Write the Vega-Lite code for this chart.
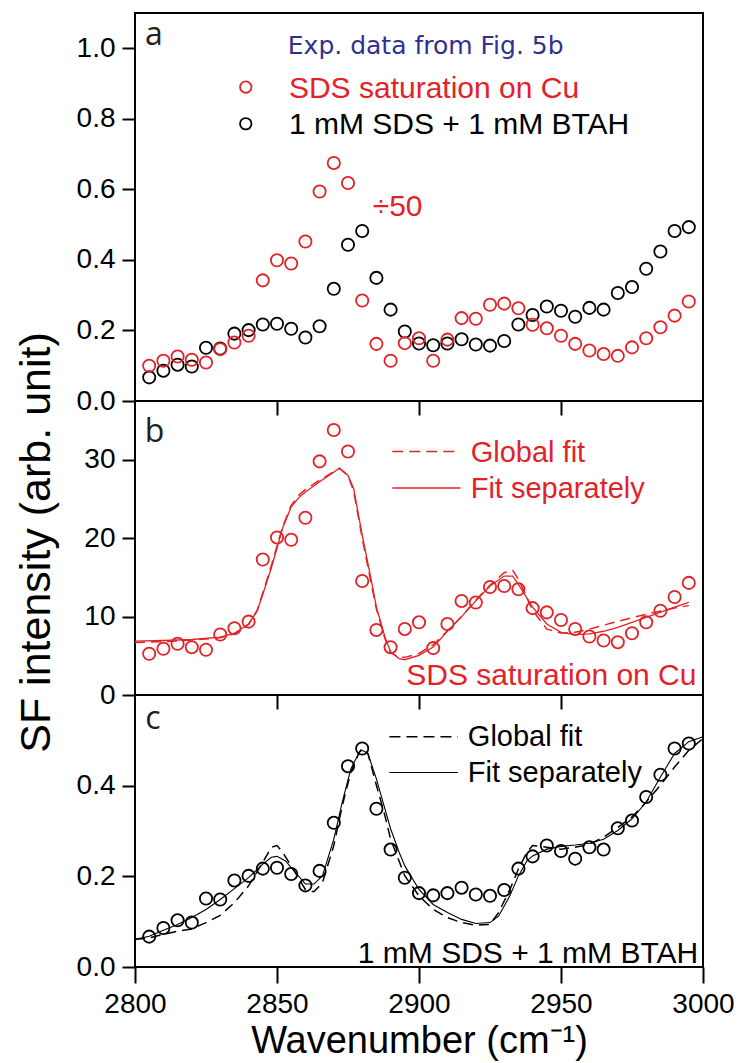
{
  "$schema": "https://vega.github.io/schema/vega-lite/v6.json",
  "padding": {"left": 13, "top": 12, "right": 5, "bottom": 0},
  "bounds": "flush",
  "spacing": 0,
  "config": {
    "font": "Liberation Sans",
    "view": {"stroke": "#000000", "strokeWidth": 2},
    "axis": {"grid": false, "domain": false, "tickColor": "#000000", "tickWidth": 2, "labelColor": "#000000", "labelFont": "Liberation Sans", "labelFontSize": 28, "titleColor": "#000000", "titleFont": "Liberation Sans", "titleFontWeight": "normal"}
  },
  "datasets": {
    "sdsA": [
      {"wn": 2805, "v": 0.100}, {"wn": 2810, "v": 0.114}, {"wn": 2815, "v": 0.126}, {"wn": 2820, "v": 0.117}, {"wn": 2825, "v": 0.109},
      {"wn": 2830, "v": 0.147}, {"wn": 2835, "v": 0.166}, {"wn": 2840, "v": 0.185}, {"wn": 2845, "v": 0.342}, {"wn": 2850, "v": 0.399},
      {"wn": 2855, "v": 0.390}, {"wn": 2860, "v": 0.452}, {"wn": 2865, "v": 0.594}, {"wn": 2870, "v": 0.675}, {"wn": 2875, "v": 0.618},
      {"wn": 2880, "v": 0.285}, {"wn": 2885, "v": 0.162}, {"wn": 2890, "v": 0.114}, {"wn": 2895, "v": 0.164}, {"wn": 2900, "v": 0.178},
      {"wn": 2905, "v": 0.114}, {"wn": 2910, "v": 0.174}, {"wn": 2915, "v": 0.235}, {"wn": 2920, "v": 0.233}, {"wn": 2925, "v": 0.273},
      {"wn": 2930, "v": 0.276}, {"wn": 2935, "v": 0.263}, {"wn": 2940, "v": 0.216}, {"wn": 2945, "v": 0.206}, {"wn": 2950, "v": 0.185},
      {"wn": 2955, "v": 0.162}, {"wn": 2960, "v": 0.143}, {"wn": 2965, "v": 0.133}, {"wn": 2970, "v": 0.128}, {"wn": 2975, "v": 0.152},
      {"wn": 2980, "v": 0.178}, {"wn": 2985, "v": 0.209}, {"wn": 2990, "v": 0.242}, {"wn": 2995, "v": 0.282}
    ],
    "btah": [
      {"wn": 2805, "v": 0.067}, {"wn": 2810, "v": 0.086}, {"wn": 2815, "v": 0.103}, {"wn": 2820, "v": 0.098}, {"wn": 2825, "v": 0.151},
      {"wn": 2830, "v": 0.149}, {"wn": 2835, "v": 0.191}, {"wn": 2840, "v": 0.201}, {"wn": 2845, "v": 0.217}, {"wn": 2850, "v": 0.219},
      {"wn": 2855, "v": 0.205}, {"wn": 2860, "v": 0.180}, {"wn": 2865, "v": 0.212}, {"wn": 2870, "v": 0.318}, {"wn": 2875, "v": 0.443},
      {"wn": 2880, "v": 0.482}, {"wn": 2885, "v": 0.349}, {"wn": 2890, "v": 0.259}, {"wn": 2895, "v": 0.197}, {"wn": 2900, "v": 0.163},
      {"wn": 2905, "v": 0.158}, {"wn": 2910, "v": 0.163}, {"wn": 2915, "v": 0.175}, {"wn": 2920, "v": 0.160}, {"wn": 2925, "v": 0.157},
      {"wn": 2930, "v": 0.170}, {"wn": 2935, "v": 0.217}, {"wn": 2940, "v": 0.244}, {"wn": 2945, "v": 0.268}, {"wn": 2950, "v": 0.256},
      {"wn": 2955, "v": 0.239}, {"wn": 2960, "v": 0.264}, {"wn": 2965, "v": 0.259}, {"wn": 2970, "v": 0.306}, {"wn": 2975, "v": 0.323},
      {"wn": 2980, "v": 0.375}, {"wn": 2985, "v": 0.424}, {"wn": 2990, "v": 0.482}, {"wn": 2995, "v": 0.493}
    ],
    "sdsB": [
      {"wn": 2805, "v": 5.27}, {"wn": 2810, "v": 5.9}, {"wn": 2815, "v": 6.53}, {"wn": 2820, "v": 6.1}, {"wn": 2825, "v": 5.77},
      {"wn": 2830, "v": 7.71}, {"wn": 2835, "v": 8.51}, {"wn": 2840, "v": 9.36}, {"wn": 2845, "v": 17.28}, {"wn": 2850, "v": 20.1},
      {"wn": 2855, "v": 19.8}, {"wn": 2860, "v": 22.6}, {"wn": 2865, "v": 29.8}, {"wn": 2870, "v": 33.8}, {"wn": 2875, "v": 31.06},
      {"wn": 2880, "v": 14.54}, {"wn": 2885, "v": 8.3}, {"wn": 2890, "v": 6.1}, {"wn": 2895, "v": 8.43}, {"wn": 2900, "v": 9.27},
      {"wn": 2905, "v": 5.98}, {"wn": 2910, "v": 9.06}, {"wn": 2915, "v": 12.0}, {"wn": 2920, "v": 11.8}, {"wn": 2925, "v": 13.78},
      {"wn": 2930, "v": 13.9}, {"wn": 2935, "v": 13.49}, {"wn": 2940, "v": 11.08}, {"wn": 2945, "v": 10.54}, {"wn": 2950, "v": 9.57},
      {"wn": 2955, "v": 8.43}, {"wn": 2960, "v": 7.46}, {"wn": 2965, "v": 6.95}, {"wn": 2970, "v": 6.74}, {"wn": 2975, "v": 7.88},
      {"wn": 2980, "v": 9.27}, {"wn": 2985, "v": 10.75}, {"wn": 2990, "v": 12.5}, {"wn": 2995, "v": 14.3}
    ],
    "fitB": [
      {"fit": "sep", "wn": 2800, "v": 6.87}, {"fit": "sep", "wn": 2810, "v": 6.95}, {"fit": "sep", "wn": 2820, "v": 7.08}, {"fit": "sep", "wn": 2830, "v": 7.37},
      {"fit": "sep", "wn": 2835, "v": 7.88}, {"fit": "sep", "wn": 2840, "v": 9.06}, {"fit": "sep", "wn": 2843, "v": 10.7}, {"fit": "sep", "wn": 2845, "v": 12.85},
      {"fit": "sep", "wn": 2848, "v": 16.2}, {"fit": "sep", "wn": 2850, "v": 18.75}, {"fit": "sep", "wn": 2852, "v": 21.3}, {"fit": "sep", "wn": 2855, "v": 24.0},
      {"fit": "sep", "wn": 2858, "v": 25.3}, {"fit": "sep", "wn": 2860, "v": 25.9}, {"fit": "sep", "wn": 2865, "v": 27.2}, {"fit": "sep", "wn": 2870, "v": 28.4},
      {"fit": "sep", "wn": 2872, "v": 28.95}, {"fit": "sep", "wn": 2875, "v": 28.0}, {"fit": "sep", "wn": 2877, "v": 26.3}, {"fit": "sep", "wn": 2880, "v": 20.4},
      {"fit": "sep", "wn": 2883, "v": 15.0}, {"fit": "sep", "wn": 2885, "v": 11.2}, {"fit": "sep", "wn": 2888, "v": 7.4}, {"fit": "sep", "wn": 2890, "v": 5.5},
      {"fit": "sep", "wn": 2893, "v": 4.64}, {"fit": "sep", "wn": 2895, "v": 4.5}, {"fit": "sep", "wn": 2900, "v": 5.06}, {"fit": "sep", "wn": 2905, "v": 6.11},
      {"fit": "sep", "wn": 2910, "v": 8.13}, {"fit": "sep", "wn": 2915, "v": 9.99}, {"fit": "sep", "wn": 2920, "v": 12.0}, {"fit": "sep", "wn": 2925, "v": 13.9},
      {"fit": "sep", "wn": 2930, "v": 15.17}, {"fit": "sep", "wn": 2933, "v": 15.17}, {"fit": "sep", "wn": 2935, "v": 14.1}, {"fit": "sep", "wn": 2940, "v": 11.2},
      {"fit": "sep", "wn": 2945, "v": 9.06}, {"fit": "sep", "wn": 2950, "v": 8.0}, {"fit": "sep", "wn": 2955, "v": 7.7}, {"fit": "sep", "wn": 2960, "v": 7.8},
      {"fit": "sep", "wn": 2965, "v": 8.13}, {"fit": "sep", "wn": 2970, "v": 8.64}, {"fit": "sep", "wn": 2980, "v": 9.9}, {"fit": "sep", "wn": 2990, "v": 11.2},
      {"fit": "sep", "wn": 2995, "v": 11.8},
      {"fit": "glob", "wn": 2800, "v": 6.7}, {"fit": "glob", "wn": 2810, "v": 6.8}, {"fit": "glob", "wn": 2820, "v": 7.0}, {"fit": "glob", "wn": 2830, "v": 7.3},
      {"fit": "glob", "wn": 2835, "v": 7.8}, {"fit": "glob", "wn": 2840, "v": 9.0}, {"fit": "glob", "wn": 2843, "v": 10.8}, {"fit": "glob", "wn": 2845, "v": 13.0},
      {"fit": "glob", "wn": 2848, "v": 16.5}, {"fit": "glob", "wn": 2850, "v": 19.0}, {"fit": "glob", "wn": 2852, "v": 21.5}, {"fit": "glob", "wn": 2855, "v": 24.2},
      {"fit": "glob", "wn": 2858, "v": 25.6}, {"fit": "glob", "wn": 2860, "v": 26.2}, {"fit": "glob", "wn": 2865, "v": 27.4}, {"fit": "glob", "wn": 2870, "v": 28.5},
      {"fit": "glob", "wn": 2872, "v": 28.9}, {"fit": "glob", "wn": 2875, "v": 28.0}, {"fit": "glob", "wn": 2877, "v": 26.0}, {"fit": "glob", "wn": 2880, "v": 20.0},
      {"fit": "glob", "wn": 2883, "v": 14.5}, {"fit": "glob", "wn": 2885, "v": 11.0}, {"fit": "glob", "wn": 2888, "v": 7.2}, {"fit": "glob", "wn": 2890, "v": 5.4},
      {"fit": "glob", "wn": 2893, "v": 4.8}, {"fit": "glob", "wn": 2895, "v": 4.8}, {"fit": "glob", "wn": 2900, "v": 5.3}, {"fit": "glob", "wn": 2905, "v": 6.4},
      {"fit": "glob", "wn": 2910, "v": 8.2}, {"fit": "glob", "wn": 2915, "v": 10.0}, {"fit": "glob", "wn": 2920, "v": 12.1}, {"fit": "glob", "wn": 2925, "v": 14.0},
      {"fit": "glob", "wn": 2930, "v": 15.6}, {"fit": "glob", "wn": 2933, "v": 15.9}, {"fit": "glob", "wn": 2935, "v": 14.8}, {"fit": "glob", "wn": 2940, "v": 10.8},
      {"fit": "glob", "wn": 2945, "v": 8.4}, {"fit": "glob", "wn": 2950, "v": 7.9}, {"fit": "glob", "wn": 2955, "v": 8.0}, {"fit": "glob", "wn": 2960, "v": 8.4},
      {"fit": "glob", "wn": 2965, "v": 8.9}, {"fit": "glob", "wn": 2970, "v": 9.4}, {"fit": "glob", "wn": 2980, "v": 10.3}, {"fit": "glob", "wn": 2990, "v": 11.1},
      {"fit": "glob", "wn": 2995, "v": 11.4}
    ],
    "fitC": [
      {"fit": "sep", "wn": 2800, "v": 0.061}, {"fit": "sep", "wn": 2805, "v": 0.068}, {"fit": "sep", "wn": 2810, "v": 0.081}, {"fit": "sep", "wn": 2815, "v": 0.094},
      {"fit": "sep", "wn": 2820, "v": 0.109}, {"fit": "sep", "wn": 2825, "v": 0.127}, {"fit": "sep", "wn": 2830, "v": 0.149}, {"fit": "sep", "wn": 2835, "v": 0.173},
      {"fit": "sep", "wn": 2840, "v": 0.197}, {"fit": "sep", "wn": 2845, "v": 0.227}, {"fit": "sep", "wn": 2848, "v": 0.242}, {"fit": "sep", "wn": 2850, "v": 0.244},
      {"fit": "sep", "wn": 2853, "v": 0.234}, {"fit": "sep", "wn": 2856, "v": 0.212}, {"fit": "sep", "wn": 2860, "v": 0.183}, {"fit": "sep", "wn": 2863, "v": 0.183},
      {"fit": "sep", "wn": 2866, "v": 0.201}, {"fit": "sep", "wn": 2870, "v": 0.282}, {"fit": "sep", "wn": 2873, "v": 0.364}, {"fit": "sep", "wn": 2876, "v": 0.437},
      {"fit": "sep", "wn": 2879, "v": 0.474}, {"fit": "sep", "wn": 2880, "v": 0.478}, {"fit": "sep", "wn": 2882, "v": 0.471}, {"fit": "sep", "wn": 2885, "v": 0.415},
      {"fit": "sep", "wn": 2888, "v": 0.349}, {"fit": "sep", "wn": 2890, "v": 0.305}, {"fit": "sep", "wn": 2893, "v": 0.253}, {"fit": "sep", "wn": 2895, "v": 0.223},
      {"fit": "sep", "wn": 2900, "v": 0.171}, {"fit": "sep", "wn": 2905, "v": 0.138}, {"fit": "sep", "wn": 2910, "v": 0.120}, {"fit": "sep", "wn": 2915, "v": 0.105},
      {"fit": "sep", "wn": 2920, "v": 0.096}, {"fit": "sep", "wn": 2925, "v": 0.098}, {"fit": "sep", "wn": 2928, "v": 0.112}, {"fit": "sep", "wn": 2932, "v": 0.157},
      {"fit": "sep", "wn": 2935, "v": 0.201}, {"fit": "sep", "wn": 2938, "v": 0.234}, {"fit": "sep", "wn": 2940, "v": 0.245}, {"fit": "sep", "wn": 2945, "v": 0.260},
      {"fit": "sep", "wn": 2950, "v": 0.266}, {"fit": "sep", "wn": 2955, "v": 0.269}, {"fit": "sep", "wn": 2960, "v": 0.273}, {"fit": "sep", "wn": 2965, "v": 0.282},
      {"fit": "sep", "wn": 2970, "v": 0.301}, {"fit": "sep", "wn": 2975, "v": 0.327}, {"fit": "sep", "wn": 2980, "v": 0.364}, {"fit": "sep", "wn": 2985, "v": 0.419},
      {"fit": "sep", "wn": 2990, "v": 0.471}, {"fit": "sep", "wn": 2995, "v": 0.497}, {"fit": "sep", "wn": 3000, "v": 0.508},
      {"fit": "glob", "wn": 2800, "v": 0.061}, {"fit": "glob", "wn": 2805, "v": 0.064}, {"fit": "glob", "wn": 2810, "v": 0.072}, {"fit": "glob", "wn": 2815, "v": 0.079},
      {"fit": "glob", "wn": 2820, "v": 0.084}, {"fit": "glob", "wn": 2825, "v": 0.098}, {"fit": "glob", "wn": 2830, "v": 0.114}, {"fit": "glob", "wn": 2835, "v": 0.142},
      {"fit": "glob", "wn": 2840, "v": 0.179}, {"fit": "glob", "wn": 2845, "v": 0.231}, {"fit": "glob", "wn": 2848, "v": 0.264}, {"fit": "glob", "wn": 2850, "v": 0.268},
      {"fit": "glob", "wn": 2852, "v": 0.253}, {"fit": "glob", "wn": 2855, "v": 0.223}, {"fit": "glob", "wn": 2860, "v": 0.171}, {"fit": "glob", "wn": 2863, "v": 0.166},
      {"fit": "glob", "wn": 2866, "v": 0.186}, {"fit": "glob", "wn": 2870, "v": 0.268}, {"fit": "glob", "wn": 2873, "v": 0.356}, {"fit": "glob", "wn": 2876, "v": 0.430},
      {"fit": "glob", "wn": 2879, "v": 0.474}, {"fit": "glob", "wn": 2880, "v": 0.482}, {"fit": "glob", "wn": 2882, "v": 0.471}, {"fit": "glob", "wn": 2885, "v": 0.401},
      {"fit": "glob", "wn": 2888, "v": 0.334}, {"fit": "glob", "wn": 2890, "v": 0.282}, {"fit": "glob", "wn": 2895, "v": 0.201}, {"fit": "glob", "wn": 2900, "v": 0.157},
      {"fit": "glob", "wn": 2905, "v": 0.127}, {"fit": "glob", "wn": 2910, "v": 0.109}, {"fit": "glob", "wn": 2915, "v": 0.098}, {"fit": "glob", "wn": 2920, "v": 0.092},
      {"fit": "glob", "wn": 2925, "v": 0.094}, {"fit": "glob", "wn": 2928, "v": 0.120}, {"fit": "glob", "wn": 2932, "v": 0.171}, {"fit": "glob", "wn": 2935, "v": 0.216},
      {"fit": "glob", "wn": 2938, "v": 0.253}, {"fit": "glob", "wn": 2940, "v": 0.268}, {"fit": "glob", "wn": 2945, "v": 0.264}, {"fit": "glob", "wn": 2950, "v": 0.260},
      {"fit": "glob", "wn": 2955, "v": 0.264}, {"fit": "glob", "wn": 2960, "v": 0.271}, {"fit": "glob", "wn": 2965, "v": 0.286}, {"fit": "glob", "wn": 2970, "v": 0.308},
      {"fit": "glob", "wn": 2975, "v": 0.331}, {"fit": "glob", "wn": 2980, "v": 0.364}, {"fit": "glob", "wn": 2985, "v": 0.401}, {"fit": "glob", "wn": 2990, "v": 0.441},
      {"fit": "glob", "wn": 2995, "v": 0.478}, {"fit": "glob", "wn": 3000, "v": 0.504}
    ]
  },
  "vconcat": [
    {
      "width": 568,
      "height": 388,
      "encoding": {
        "x": {"field": "wn", "type": "quantitative", "scale": {"domain": [2800, 3000], "nice": false, "zero": false},
              "axis": {"title": null, "labels": false, "values": [2850, 2900, 2950], "tickSize": 14}},
        "y": {"field": "v", "type": "quantitative", "scale": {"domain": [0, 1.1], "nice": false},
              "axis": {"title": null, "values": [0, 0.2, 0.4, 0.6, 0.8, 1.0], "format": ".1f", "tickSize": 13, "labelPadding": 7}}
      },
      "layer": [
        {"data": {"name": "btah"}, "mark": {"type": "point", "shape": "circle", "filled": false, "stroke": "#000000", "strokeWidth": 1.8, "size": 150, "opacity": 1}},
        {"data": {"name": "sdsA"}, "mark": {"type": "point", "shape": "circle", "filled": false, "stroke": "#e32228", "strokeWidth": 1.8, "size": 150, "opacity": 1}},
        {"data": {"values": [{"wn": 2839, "v": 0.89}]}, "mark": {"type": "point", "shape": "circle", "filled": false, "stroke": "#e32228", "strokeWidth": 1.8, "size": 130, "opacity": 1}},
        {"data": {"values": [{"wn": 2839, "v": 0.786}]}, "mark": {"type": "point", "shape": "circle", "filled": false, "stroke": "#000000", "strokeWidth": 1.8, "size": 130, "opacity": 1}},
        {"data": {"values": [{"wn": 2803.5, "v": 1.008, "label": "a"}]}, "mark": {"type": "text", "align": "left", "baseline": "alphabetic", "font": "Open Sans", "fontSize": 32, "color": "#231f20"}, "encoding": {"text": {"field": "label"}}},
        {"data": {"values": [{"wn": 2853.8, "v": 0.984, "label": "Exp. data from Fig. 5b"}]}, "mark": {"type": "text", "align": "left", "baseline": "alphabetic", "font": "DejaVu Sans", "fontSize": 25, "color": "#2e3192"}, "encoding": {"text": {"field": "label"}}},
        {"data": {"values": [{"wn": 2854.2, "v": 0.86, "label": "SDS saturation on Cu"}]}, "mark": {"type": "text", "align": "left", "baseline": "alphabetic", "fontSize": 30, "color": "#e32228"}, "encoding": {"text": {"field": "label"}}},
        {"data": {"values": [{"wn": 2854.2, "v": 0.757, "label": "1 mM SDS + 1 mM BTAH"}]}, "mark": {"type": "text", "align": "left", "baseline": "alphabetic", "fontSize": 30, "color": "#000000"}, "encoding": {"text": {"field": "label"}}},
        {"data": {"values": [{"wn": 2883.7, "v": 0.525, "label": "÷50"}]}, "mark": {"type": "text", "align": "left", "baseline": "alphabetic", "fontSize": 30, "color": "#e32228"}, "encoding": {"text": {"field": "label"}}}
      ]
    },
    {
      "width": 568,
      "height": 294,
      "encoding": {
        "x": {"field": "wn", "type": "quantitative", "scale": {"domain": [2800, 3000], "nice": false, "zero": false},
              "axis": {"title": null, "labels": false, "values": [2850, 2900, 2950], "tickSize": 14}},
        "y": {"field": "v", "type": "quantitative", "scale": {"domain": [0, 37.5], "nice": false},
              "axis": {"title": "SF intensity (arb. unit)", "values": [0, 10, 20, 30], "tickSize": 13, "labelPadding": 7,
                       "titleFontSize": 43, "titleAngle": 270, "titleX": -86, "titleY": 141, "titleBaseline": "alphabetic", "titleAlign": "center"}}
      },
      "layer": [
        {"data": {"name": "fitB"}, "transform": [{"filter": "datum.fit == 'glob'"}], "mark": {"type": "line", "color": "#e32228", "strokeWidth": 1.5, "strokeDash": [10, 6]}},
        {"data": {"name": "fitB"}, "transform": [{"filter": "datum.fit == 'sep'"}], "mark": {"type": "line", "color": "#e32228", "strokeWidth": 1.3}},
        {"data": {"name": "sdsB"}, "mark": {"type": "point", "shape": "circle", "filled": false, "stroke": "#e32228", "strokeWidth": 1.8, "size": 150, "opacity": 1}},
        {"data": {"values": [{"wn": 2890.6, "wn2": 2914.6, "v": 31.06}]}, "mark": {"type": "rule", "color": "#e32228", "strokeWidth": 1.6, "strokeDash": [11, 6]}, "encoding": {"x2": {"field": "wn2"}}},
        {"data": {"values": [{"wn": 2890.6, "wn2": 2914.6, "v": 26.4}]}, "mark": {"type": "rule", "color": "#e32228", "strokeWidth": 1.3}, "encoding": {"x2": {"field": "wn2"}}},
        {"data": {"values": [{"wn": 2918.2, "v": 29.7, "label": "Global fit"}, {"wn": 2918.2, "v": 25.1, "label": "Fit separately"}]}, "mark": {"type": "text", "align": "left", "baseline": "alphabetic", "fontSize": 29, "color": "#e32228"}, "encoding": {"text": {"field": "label"}}},
        {"data": {"values": [{"wn": 2997.7, "v": 1.26, "label": "SDS saturation on Cu"}]}, "mark": {"type": "text", "align": "right", "baseline": "alphabetic", "fontSize": 30, "color": "#e32228"}, "encoding": {"text": {"field": "label"}}},
        {"data": {"values": [{"wn": 2803.4, "v": 32.3, "label": "b"}]}, "mark": {"type": "text", "align": "left", "baseline": "alphabetic", "font": "Open Sans", "fontSize": 32, "color": "#231f20"}, "encoding": {"text": {"field": "label"}}}
      ]
    },
    {
      "width": 568,
      "height": 272,
      "encoding": {
        "x": {"field": "wn", "type": "quantitative", "scale": {"domain": [2800, 3000], "nice": false, "zero": false},
              "axis": {"title": "Wavenumber (cm⁻¹)", "values": [2800, 2850, 2900, 2950, 3000], "format": "d", "tickSize": 16, "labelPadding": 7, "labelFlush": false, "titleFontSize": 38, "titlePadding": 4}},
        "y": {"field": "v", "type": "quantitative", "scale": {"domain": [0, 0.6], "nice": false},
              "axis": {"title": null, "values": [0, 0.2, 0.4], "format": ".1f", "tickSize": 13, "labelPadding": 7}}
      },
      "layer": [
        {"data": {"name": "fitC"}, "transform": [{"filter": "datum.fit == 'glob'"}], "mark": {"type": "line", "color": "#000000", "strokeWidth": 1.5, "strokeDash": [10, 6]}},
        {"data": {"name": "fitC"}, "transform": [{"filter": "datum.fit == 'sep'"}], "mark": {"type": "line", "color": "#000000", "strokeWidth": 1.1}},
        {"data": {"name": "btah"}, "mark": {"type": "point", "shape": "circle", "filled": false, "stroke": "#000000", "strokeWidth": 1.8, "size": 150, "opacity": 1}},
        {"data": {"values": [{"wn": 2889.6, "wn2": 2913.7, "v": 0.508}]}, "mark": {"type": "rule", "color": "#000000", "strokeWidth": 1.6, "strokeDash": [11, 6]}, "encoding": {"x2": {"field": "wn2"}}},
        {"data": {"values": [{"wn": 2889.6, "wn2": 2913.7, "v": 0.429}]}, "mark": {"type": "rule", "color": "#000000", "strokeWidth": 1.1}, "encoding": {"x2": {"field": "wn2"}}},
        {"data": {"values": [{"wn": 2917.2, "v": 0.488, "label": "Global fit"}, {"wn": 2917.2, "v": 0.407, "label": "Fit separately"}]}, "mark": {"type": "text", "align": "left", "baseline": "alphabetic", "fontSize": 29, "color": "#000000"}, "encoding": {"text": {"field": "label"}}},
        {"data": {"values": [{"wn": 2998.3, "v": 0.009, "label": "1 mM SDS + 1 mM BTAH"}]}, "mark": {"type": "text", "align": "right", "baseline": "alphabetic", "fontSize": 30, "color": "#000000"}, "encoding": {"text": {"field": "label"}}},
        {"data": {"values": [{"wn": 2803.6, "v": 0.526, "label": "c"}]}, "mark": {"type": "text", "align": "left", "baseline": "alphabetic", "font": "Open Sans", "fontSize": 32, "color": "#231f20"}, "encoding": {"text": {"field": "label"}}}
      ]
    }
  ],
  "resolve": {"scale": {"x": "independent", "y": "independent"}}
}
